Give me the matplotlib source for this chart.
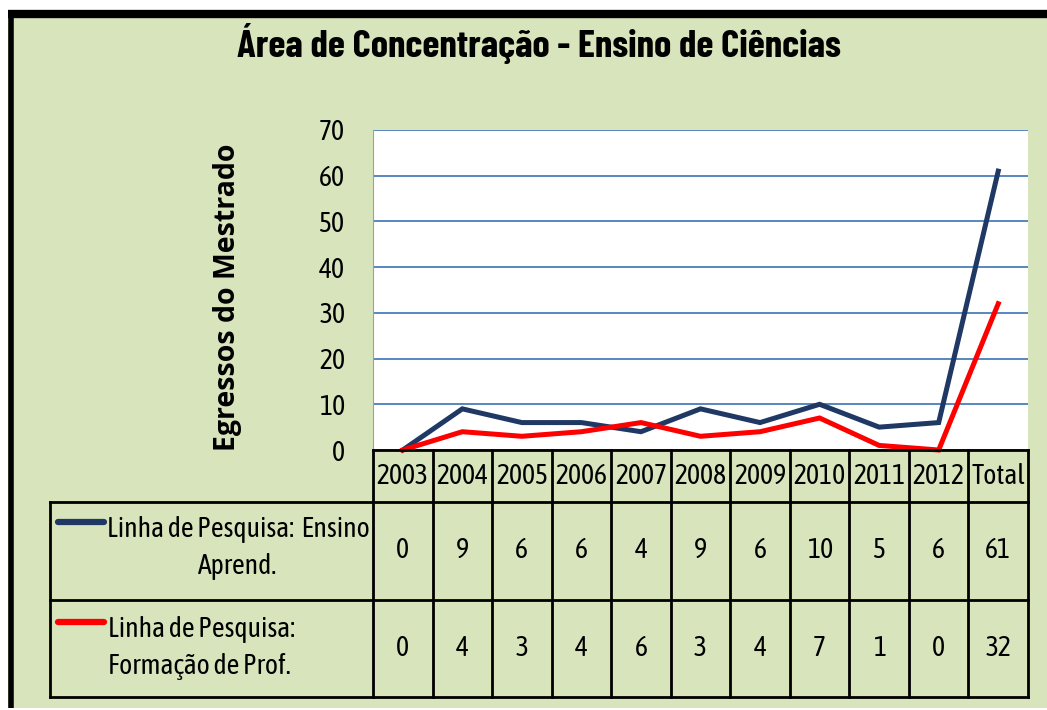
import matplotlib
matplotlib.use('Agg')
import matplotlib.pyplot as plt
from matplotlib.patches import Rectangle

# data
years = ["2003", "2004", "2005", "2006", "2007", "2008", "2009", "2010", "2011", "2012", "Total"]
ensino = [0, 9, 6, 6, 4, 9, 6, 10, 5, 6, 61]
formacao = [0, 4, 3, 4, 6, 3, 4, 7, 1, 0, 32]
series_names = ["Linha de Pesquisa:  Ensino\nAprend.", "Linha de Pesquisa:\nFormação de Prof."]
title = "Área de Concentração - Ensino de Ciências"
ylabel = "Egressos do Mestrado"

W, H = 1047, 710
BG = "#d8e4bc"
BLUE = "#1f3864"
RED = "#ff0000"
GRID = "#4a7ebb"
NARROW = ["Asap Condensed", "DejaVu Sans"]
TITLEF = ["Barlow Condensed", "DejaVu Sans"]

fig = plt.figure(figsize=(W / 100, H / 100), dpi=100, facecolor="white")


def fx(x):
    return x / W


def fy(y):
    return 1 - y / H


# background panel + frame
fig.patches.append(Rectangle((fx(8), fy(708)), fx(W - 8), (708 - 10) / H, transform=fig.transFigure,
                             facecolor=BG, edgecolor="none", zorder=-10))
fig.add_artist(plt.Line2D([fx(8), fx(W)], [fy(14), fy(14)], color="black", lw=6, solid_capstyle="butt"))
fig.add_artist(plt.Line2D([fx(10.5), fx(10.5)], [fy(11), fy(708)], color="black", lw=4, solid_capstyle="butt"))

# plot area
x0, x1, ytop, ybot = 373, 1028, 130, 450
ax = fig.add_axes([fx(x0), fy(ybot), fx(x1 - x0), (ybot - ytop) / H])
ax.set_facecolor("white")
xs = list(range(len(years)))
ax.plot(xs, ensino, color=BLUE, lw=3.6, solid_joinstyle="miter", zorder=3, clip_on=False)
ax.plot(xs, formacao, color=RED, lw=3.6, solid_joinstyle="miter", zorder=3, clip_on=False)
ax.set_xlim(-0.5, len(years) - 0.5)
ax.set_ylim(0, 70)
ax.set_yticks(range(0, 71, 10))
ax.yaxis.grid(True, color=GRID, lw=1.3)
ax.set_axisbelow(True)
ax.set_xticks([])
ax.tick_params(axis="y", length=0, pad=20, labelsize=20)
for lab in ax.get_yticklabels():
    lab.set_family(NARROW)
for s in ["top", "right", "bottom"]:
    ax.spines[s].set_visible(False)
ax.spines["left"].set_color("#a0a0a0")

# title and y label
fig.text(fx(539), fy(44), title, ha="center", va="center", fontsize=28, fontweight="bold", family=TITLEF)
fig.text(fx(228), fy(297), ylabel, ha="center", va="center", rotation=90, fontsize=20.5,
         fontweight="bold", family=["Open Sans", "DejaVu Sans"])

# data table
colw = (x1 - x0) / len(years)
lk = dict(color="black", lw=2, solid_capstyle="projecting")
fig.add_artist(plt.Line2D([fx(x0), fx(x1)], [fy(450), fy(450)], **lk))
for yy in (502, 600, 697):
    fig.add_artist(plt.Line2D([fx(50), fx(x1)], [fy(yy), fy(yy)], **lk))
fig.add_artist(plt.Line2D([fx(50), fx(50)], [fy(502), fy(697)], **lk))
for i in range(len(years) + 1):
    xx = x0 + i * colw
    fig.add_artist(plt.Line2D([fx(xx), fx(xx)], [fy(450), fy(697)], **lk))

tk = dict(ha="center", va="center", fontsize=20, family=NARROW)
for i, yr in enumerate(years):
    cx = x0 + (i + 0.5) * colw
    fig.text(fx(cx), fy(476), yr, **tk)
    fig.text(fx(cx), fy(551), str(ensino[i]), **tk)
    fig.text(fx(cx), fy(648), str(formacao[i]), **tk)

# legend keys in table
fig.add_artist(plt.Line2D([fx(58), fx(104)], [fy(522), fy(522)], color=BLUE, lw=4.5, solid_capstyle="round"))
fig.add_artist(plt.Line2D([fx(58), fx(104)], [fy(622), fy(622)], color=RED, lw=4.5, solid_capstyle="round"))
fig.text(fx(238), fy(548), series_names[0], ha="center", va="center", fontsize=20, family=NARROW,
         linespacing=1.5, multialignment="center")
fig.text(fx(108), fy(648), series_names[1], ha="left", va="center", fontsize=20, family=NARROW,
         linespacing=1.5)

fig.savefig("out.png", dpi=100, facecolor=fig.get_facecolor())
